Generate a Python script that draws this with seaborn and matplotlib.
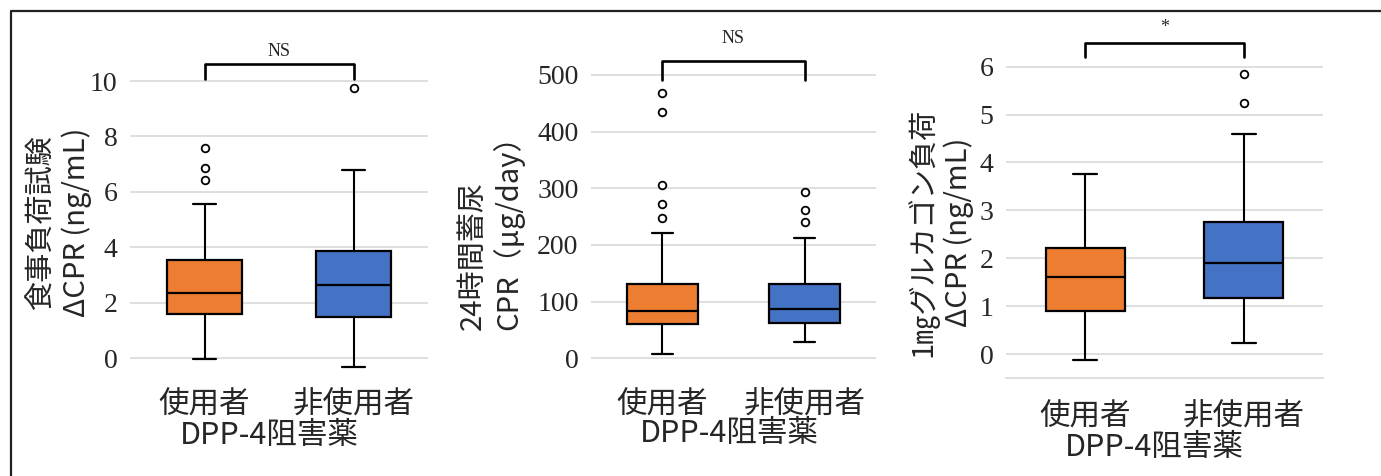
import matplotlib
matplotlib.use("Agg")
import matplotlib.pyplot as plt
from matplotlib.lines import Line2D
import seaborn as sns

# ---- data ----
GROUPS = ["使用者", "非使用者"]
XLABEL = "DPP-4阻害薬"

meal_whislo = [-0.05, -0.34]
meal_q1 = [1.58, 1.47]
meal_med = [2.34, 2.64]
meal_q3 = [3.52, 3.85]
meal_whishi = [5.57, 6.80]
meal_fliers = [[6.41, 6.87, 7.57], [9.74]]

urine_whislo = [7, 28]
urine_q1 = [60, 62]
urine_med = [84, 87]
urine_q3 = [132, 132]
urine_whishi = [222, 213]
urine_fliers = [[247, 272, 306, 435, 468], [240, 261, 294]]

gluc_whislo = [-0.13, 0.23]
gluc_q1 = [0.90, 1.17]
gluc_med = [1.60, 1.90]
gluc_q3 = [2.22, 2.76]
gluc_whishi = [3.76, 4.60]
gluc_fliers = [[], [5.25, 5.85]]

YLABELS = ["食事負荷試験\nΔCPR (ng/mL)",
           "24時間蓄尿\nCPR（μg/day）",
           "1㎎グルカゴン負荷\nΔCPR (ng/mL)"]
SIG = ["NS", "NS", "*"]
YTICKS = [[0, 2, 4, 6, 8, 10], [0, 100, 200, 300, 400, 500], [0, 1, 2, 3, 4, 5, 6]]
BRACKET = [(10.07, 10.6, 11.05), (492, 524, 565), (6.2, 6.5, 6.82)]  # foot, top, text

COLORS = ["#ED7D31", "#4472C4"]
GRID = "#D9D9D9"

# ---- layout in image pixels: x0, x1, (value, px), (value, px), ylim ----
W, H = 1381, 476
LAYOUT = [
    (130, 428, (0, 358.0), (10, 81.0), (-0.8, 10.2)),
    (591, 876, (0, 358.3), (500, 75.0), (-38, 510)),
    (1006, 1323, (0, 354.0), (6, 66.7), (-0.5, 6.5)),
]
YLABEL_POS = [(59, 222, "center"), (491, 225, "left"), (940, 232, "center")]
XTICK_PAD = [7, 7, 17]
XLABEL_POS = [(269, 435), (729, 433), (1154, 447)]

sns.set_theme(style="whitegrid")
plt.rcParams["font.family"] = ["Noto Sans CJK JP", "DejaVu Sans"]
plt.rcParams["axes.unicode_minus"] = False

fig = plt.figure(figsize=(W / 100, H / 100), dpi=100)
fig.patch.set_facecolor("white")

panels = [
    (meal_whislo, meal_q1, meal_med, meal_q3, meal_whishi, meal_fliers),
    (urine_whislo, urine_q1, urine_med, urine_q3, urine_whishi, urine_fliers),
    (gluc_whislo, gluc_q1, gluc_med, gluc_q3, gluc_whishi, gluc_fliers),
]

for i, (lo, q1, med, q3, hi, fl) in enumerate(panels):
    x0, x1, (va, pa), (vb, pb), ylim = LAYOUT[i]
    scale = (pa - pb) / (vb - va)
    ybot = pa + (va - ylim[0]) * scale
    ytop = pa - (ylim[1] - va) * scale
    ax = fig.add_axes([x0 / W, 1 - ybot / H, (x1 - x0) / W, (ybot - ytop) / H])

    stats = [dict(label=g, whislo=lo[j], q1=q1[j], med=med[j], q3=q3[j],
                  whishi=hi[j], fliers=fl[j]) for j, g in enumerate(GROUPS)]
    bp = ax.bxp(stats, positions=[0, 1], widths=0.5, patch_artist=True,
                capwidths=0.15,
                boxprops=dict(edgecolor="black", linewidth=1.6),
                medianprops=dict(color="black", linewidth=1.6),
                whiskerprops=dict(color="black", linewidth=1.5),
                capprops=dict(color="black", linewidth=1.6),
                flierprops=dict(marker="o", markersize=5.5, markerfacecolor="white",
                                markeredgecolor="black", markeredgewidth=1.3))
    for patch, c in zip(bp["boxes"], sns.color_palette(COLORS)):
        patch.set_facecolor(c)

    ax.set_xlim(-0.5, 1.5)
    ax.set_ylim(*ylim)
    ax.set_yticks(YTICKS[i])
    ax.grid(True, axis="y", color=GRID, linewidth=1.2)
    ax.grid(False, axis="x")
    ax.set_axisbelow(True)
    for s in ax.spines.values():
        s.set_visible(False)
    if i == 2:
        ax.spines["bottom"].set_visible(True)
        ax.spines["bottom"].set_color(GRID)
        ax.spines["bottom"].set_linewidth(1.2)

    ax.tick_params(axis="y", length=0, pad=9)
    ax.tick_params(axis="x", length=0, pad=XTICK_PAD[i], labelsize=22)
    for t in ax.get_yticklabels():
        t.set_fontfamily("Liberation Serif")
        t.set_fontsize(20)

    # significance bracket
    foot, top, txt = BRACKET[i]
    ax.plot([0, 0, 1, 1], [foot, top, top, foot], color="black", lw=1.9,
            clip_on=False, solid_joinstyle="round")
    ax.text(0.5, txt, SIG[i], ha="center", va="center", fontsize=13,
            family="Liberation Serif", clip_on=False)

    # axis titles placed in pixel space
    lx, ly, ma = YLABEL_POS[i]
    fig.text(lx / W, 1 - ly / H, YLABELS[i], rotation=90, ha="center",
             va="center", fontsize=21, multialignment=ma, linespacing=1.2)
    xx, xy = XLABEL_POS[i]
    fig.text(xx / W, 1 - xy / H, XLABEL, ha="center", va="center", fontsize=22)

# outer frame (top and left edges only)
fig.add_artist(Line2D([11 / W, 11 / W, 1.0], [0.0, 1 - 11 / H, 1 - 11 / H],
                      transform=fig.transFigure, color="#222222", lw=1.6))

fig.savefig("out.png", dpi=100)
